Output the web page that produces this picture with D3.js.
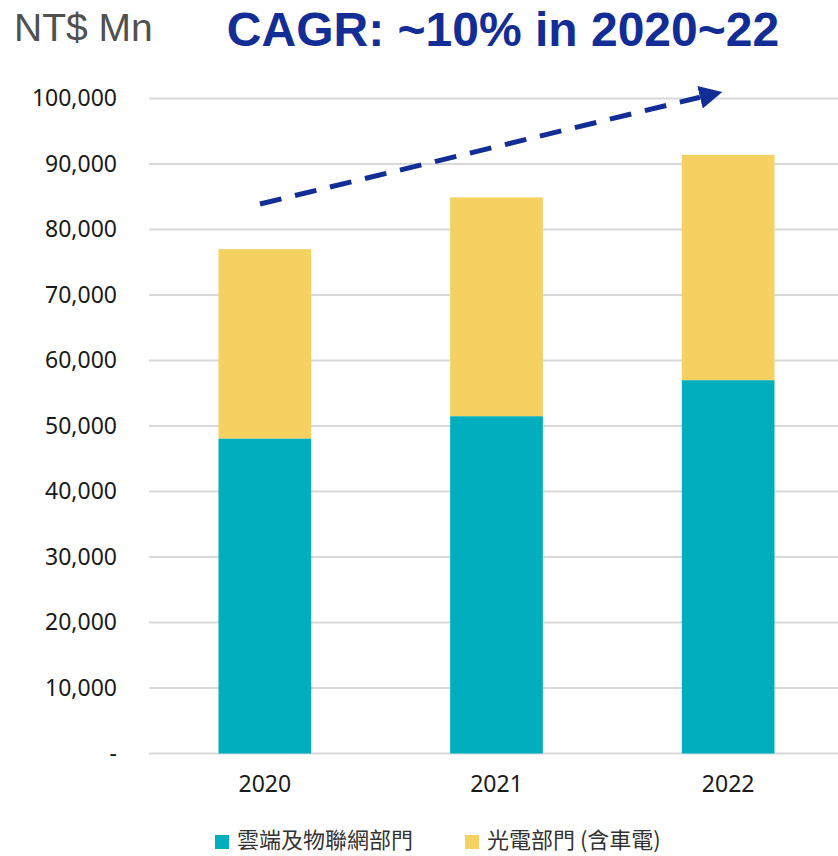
<!DOCTYPE html>
<html>
<head>
<meta charset="utf-8">
<script src="https://cdn.jsdelivr.net/npm/d3@7"></script>
<style>
  body { margin: 0; background: #fff; }
  svg { font-family: "Liberation Sans", Arial, sans-serif; }
</style>
</head>
<body>
<svg id="drawing_region"></svg>
<script>
const years = ['2020', '2021', '2022'];
const cloudIoT = [48100, 51500, 57000];
const optical = [28900, 33400, 34400];
const seriesNames = ['雲端及物聯網部門', '光電部門 (含車電)'];
const seriesColors = ['#00aebd', '#f4d160'];
const yTicks = [0, 10000, 20000, 30000, 40000, 50000, 60000, 70000, 80000, 90000, 100000];

const width = 838, height = 856;
const margin = {top: 98.5, right: -6, bottom: 102.5, left: 149};

const svg = d3.select('#drawing_region')
    .attr('width', width)
    .attr('height', height);

const inner_width = width - margin.left - margin.right;
const inner_height = height - margin.top - margin.bottom;

const chart = svg.append('g')
    .attr('transform', `translate(${margin.left}, ${margin.top})`);

const xscale = d3.scaleBand()
    .domain(years)
    .range([0, inner_width])
    .paddingInner(0.6)
    .paddingOuter(0.3);

const yscale = d3.scaleLinear()
    .domain([0, 100000])
    .range([inner_height, 0]);

// grid
chart.append('g')
    .selectAll('line')
    .data(yTicks)
    .join('line')
    .attr('x1', 0)
    .attr('x2', width - margin.left)
    .attr('y1', d => yscale(d))
    .attr('y2', d => yscale(d))
    .attr('stroke', '#d9d9d9')
    .attr('stroke-width', 2);

// y axis labels
const yaxis = d3.axisLeft(yscale)
    .tickValues(yTicks)
    .tickSize(0)
    .tickPadding(32)
    .tickFormat(d => d === 0 ? '-' : d3.format(',')(d));

chart.append('g')
    .call(yaxis)
    .call(g => g.select('.domain').remove())
    .selectAll('text')
    .attr('font-family', '"Noto Sans", sans-serif')
    .attr('font-size', '23px')
    .attr('fill', '#1a1a1a');

// x axis labels
const xaxis = d3.axisBottom(xscale).tickSize(0).tickPadding(22);
chart.append('g')
    .attr('transform', `translate(0, ${inner_height})`)
    .call(xaxis)
    .call(g => g.select('.domain').remove())
    .selectAll('text')
    .attr('font-family', '"Noto Sans", sans-serif')
    .attr('font-size', '23px')
    .attr('fill', '#1a1a1a');

// stacked bars
const table = years.map((y, i) => ({year: y, s0: cloudIoT[i], s1: optical[i]}));
const stacked = d3.stack().keys(['s0', 's1'])(table);

chart.selectAll('g.layer')
    .data(stacked)
    .join('g')
    .attr('class', 'layer')
    .attr('fill', (d, i) => seriesColors[i])
    .selectAll('rect')
    .data(d => d)
    .join('rect')
    .attr('x', d => xscale(d.data.year))
    .attr('width', xscale.bandwidth())
    .attr('y', d => yscale(d[1]))
    .attr('height', d => yscale(d[0]) - yscale(d[1]));

// titles
svg.append('text')
    .attr('x', 14)
    .attr('y', 41)
    .attr('font-size', '39px')
    .attr('fill', '#505050')
    .text('NT$ Mn');

svg.append('text')
    .attr('x', 503)
    .attr('y', 46)
    .attr('text-anchor', 'middle')
    .attr('font-size', '48px')
    .attr('font-weight', 'bold')
    .attr('fill', '#132d96')
    .text('CAGR: ~10% in 2020~22');

// CAGR arrow
svg.append('defs').append('marker')
    .attr('id', 'arrow')
    .attr('viewBox', '0 0 10 10')
    .attr('refX', 0)
    .attr('refY', 5)
    .attr('markerWidth', 4.6)
    .attr('markerHeight', 4.6)
    .attr('orient', 'auto')
    .append('path')
    .attr('d', 'M0,0 L10,5 L0,10 z')
    .attr('fill', '#132d96');

svg.append('line')
    .attr('x1', 260)
    .attr('y1', 204)
    .attr('x2', 700)
    .attr('y2', 97.3)
    .attr('stroke', '#132d96')
    .attr('stroke-width', 5)
    .attr('stroke-dasharray', '22,14')
    .attr('marker-end', 'url(#arrow)');

// legend
const legend = svg.append('g')
    .attr('transform', 'translate(0, 841)');
const lx = [215, 465];
seriesNames.forEach((name, i) => {
    legend.append('rect')
        .attr('x', lx[i])
        .attr('y', -6)
        .attr('width', 14)
        .attr('height', 14)
        .attr('fill', seriesColors[i]);
    legend.append('text')
        .attr('x', lx[i] + 22)
        .attr('y', 7)
        .attr('font-size', '22px')
        .attr('font-family', '"Noto Sans CJK TC", sans-serif')
        .attr('fill', '#333')
        .text(name);
});
</script>
</body>
</html>
